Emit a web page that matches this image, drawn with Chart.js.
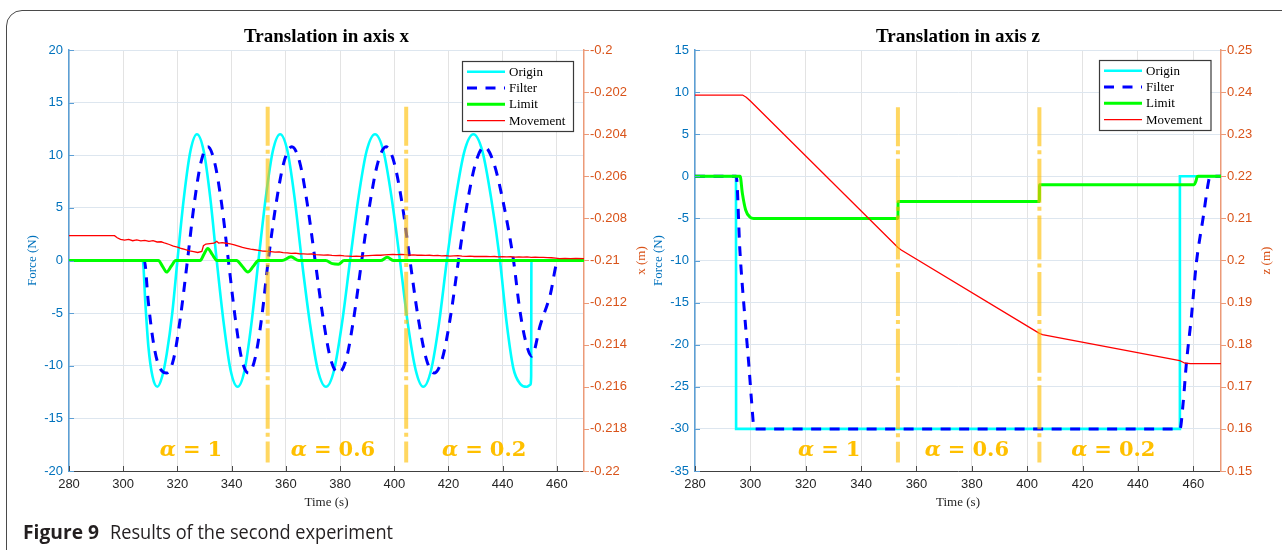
<!DOCTYPE html>
<html>
<head>
<meta charset="utf-8">
<script src="https://cdn.jsdelivr.net/npm/chart.js@4.4.1/dist/chart.umd.min.js"></script>
<style>
  html, body { margin: 0; padding: 0; background: #fff; }
  #stage { position: relative; width: 1282px; height: 550px; overflow: hidden; background: #fff; }
  #frame { position: absolute; left: 6px; top: 10px; width: 1320px; height: 600px;
           border: 1.5px solid #4a4a4a; border-radius: 16px; box-sizing: border-box; }
  canvas { position: absolute; left: 0; top: 0; }
  .cap { position: absolute; top: 522px; font-family: "Open Sans", "Noto Sans", sans-serif; font-size: 20px;
         line-height: 20px; color: #231f20; white-space: nowrap; display: inline-block; transform-origin: 0 50%; }
  #capB { left: 23px; font-weight: 700; }
  #capR { left: 110px; font-weight: 400; }
</style>
</head>
<body>
<div id="stage">
  <div id="frame"></div>
  <canvas id="chartX" width="1282" height="550"></canvas>
  <canvas id="chartZ" width="1282" height="550"></canvas>
  <span class="cap" id="capB">Figure 9</span>
  <span class="cap" id="capR">Results of the second experiment</span>
</div>
<script>
// ---------- axis ticks ----------
const timeTicks = [280, 300, 320, 340, 360, 380, 400, 420, 440, 460];
const forceTicksX = [-20, -15, -10, -5, 0, 5, 10, 15, 20];
const posTicksX = [-0.22, -0.218, -0.216, -0.214, -0.212, -0.21, -0.208, -0.206, -0.204, -0.202, -0.2];
const posTickLabelsX = ['-0.22', '-0.218', '-0.216', '-0.214', '-0.212', '-0.21', '-0.208', '-0.206', '-0.204', '-0.202', '-0.2'];
const forceTicksZ = [-35, -30, -25, -20, -15, -10, -5, 0, 5, 10, 15];
const posTicksZ = [0.15, 0.16, 0.17, 0.18, 0.19, 0.2, 0.21, 0.22, 0.23, 0.24, 0.25];
const posTickLabelsZ = ['0.15', '0.16', '0.17', '0.18', '0.19', '0.2', '0.21', '0.22', '0.23', '0.24', '0.25'];

// ---------- stages (time of switch, labels) ----------
const stageSwitches = [353.3, 404.4];
const stageLabels = ['α = 1', 'α = 0.6', 'α = 0.2'];
const stageLabelTimeX = [325, 377.4, 433.2];
const stageLabelTimeZ = [328.5, 378.2, 431.1];

// ---------- translation in x: [time s, value] ----------
const originX = [
  [280,0],[307.2,0],[308.2,-4.2],[309.3,-8.2],[310.8,-11],[312.6,-12],[314.4,-11],[316.1,-8.8],[318.1,-5],[320,0],
  [322.4,6],[324.8,10.4],[327.2,12],[329.7,10.4],[332.1,6],[334.5,0],
  [337.1,-6],[339.6,-10.4],[342.2,-12],[344.8,-10.4],[347.3,-6],[349.9,0],
  [352.6,6],[355.2,10.4],[357.9,12],[360.6,10.4],[363.2,6],[365.9,0],
  [368.9,-6],[371.8,-10.4],[374.8,-12],[377.8,-10.4],[380.7,-6],[383.7,0],
  [386.8,6],[389.8,10.4],[392.9,12],[396,10.4],[399,6],[402.1,0],
  [405,-6],[407.9,-10.4],[410.7,-12],[413.6,-10.4],[416.5,-6],[419.4,0],
  [422.7,6],[425.9,10.4],[429.2,12],[432.5,10.4],[435.7,6],[439,0],
  [441.5,-6],[443.9,-10.2],[446.4,-11.7],[448.9,-12],[450.2,-11.8],[450.5,-11],[450.6,0],[470,0]
];
const filterX = [
  [280,0],[307.8,0],[309.2,-3.8],[310.9,-7.4],[312.6,-9.6],[314.3,-10.5],[316,-10.7],[318.6,-9.35],[321.1,-5.4],[323.7,0],
  [326.2,5.4],[328.7,9.35],[331.2,10.8],[333.7,9.35],[336.3,5.4],[338.8,0],
  [341.3,-5.4],[343.7,-9.35],[346.2,-10.7],[348.6,-9.35],[351.1,-5.4],[353.5,0],
  [356.4,5.4],[359.3,9.35],[362.2,10.8],[365.1,9.35],[367.9,5.4],[370.8,0],
  [373.7,-5.4],[376.5,-9.35],[379.4,-10.7],[382.3,-9.35],[385.1,-5.4],[388,0],
  [391,5.4],[394,9.35],[397,10.8],[399.9,9.35],[402.9,5.4],[405.8,0],
  [408.8,-5.4],[411.8,-9.35],[414.7,-10.7],[417.7,-9.35],[420.7,-5.4],[423.7,0],
  [426.9,5.4],[430.1,9.35],[433.2,10.8],[436.6,9.35],[440.3,5.4],[444,0],
  [446.2,-4.5],[448.4,-7.6],[450.7,-9.1],[453.8,-6.2],[457.5,-3.3],[460.5,0],[470,0]
];
const limitX = [
  [280,0],[313,0],[314.5,-0.55],[316,-1.1],[317.7,-0.55],[319.4,0],
  [328.4,0],[329.8,0.6],[331.2,1.15],[332.9,0.55],[334.6,0],
  [341.8,0],[343.9,-0.55],[346,-1.1],[348,-0.55],[349.9,0],
  [358.6,0],[361.9,0.35],[364.8,0],
  [374.7,0],[377.2,-0.3],[379.4,-0.35],[381.5,0],
  [395,0],[397.4,0.3],[399.8,0],[470,0]
];
const movementX = [
  [280,-0.20882],[296.8,-0.20882],[297.8,-0.20892],[299,-0.209],[300.5,-0.20903],[302,-0.209],[303.5,-0.20906],
  [305,-0.20902],[306.5,-0.20907],[308,-0.20904],[309.5,-0.20909],[311,-0.20906],[312.5,-0.20912],[314,-0.20911],
  [315.5,-0.20918],[317,-0.20924],[318.5,-0.20932],[320,-0.20937],[321.5,-0.20943],[323,-0.20948],[324.5,-0.20954],
  [326,-0.20958],[327.5,-0.20962],[329,-0.20957],[329.6,-0.2093],[330.5,-0.20922],[332,-0.2092],[333.5,-0.20918],
  [334.5,-0.20909],[335.2,-0.20917],[336.5,-0.20915],[338,-0.20918],[339.5,-0.20921],[341,-0.20926],[342.5,-0.20932],
  [344,-0.20938],[345.5,-0.20942],[347,-0.20946],[348.5,-0.20949],[350,-0.20952],[351.5,-0.20955],[353,-0.20956],
  [354.5,-0.20958],[356,-0.2096],[357.5,-0.20959],[359,-0.20963],[360.5,-0.20964],[362,-0.20966],[363.5,-0.20965],
  [365,-0.20968],[366.5,-0.20969],[368,-0.2097],[369.5,-0.20969],[371,-0.20972],[372.5,-0.20973],[374,-0.20974],
  [375.5,-0.20973],[377,-0.20976],[378.5,-0.20977],[380,-0.20976],[381.5,-0.20978],[383,-0.20979],[384.5,-0.2098],
  [386,-0.20979],[387.5,-0.2098],[389,-0.20978],[390.5,-0.20977],[392,-0.20976],[393.5,-0.20975],[395,-0.20975],
  [396.5,-0.20973],[398,-0.20972],[399.5,-0.20971],[401,-0.20972],[402.5,-0.20971],[404,-0.20972],[405.5,-0.20974],
  [407,-0.20973],[408.5,-0.20975],[410,-0.20974],[411.5,-0.20976],[413,-0.20975],[414.5,-0.20977],[416,-0.20976],
  [417.5,-0.20978],[419,-0.20977],[420.5,-0.20979],[422,-0.20978],[423.5,-0.20977],[425,-0.20979],[426.5,-0.2098],
  [428,-0.20979],[429.5,-0.20981],[431,-0.2098],[432.5,-0.20981],[434,-0.2098],[435.5,-0.20982],[437,-0.20981],
  [438.5,-0.20983],[440,-0.20982],[441.5,-0.20983],[443,-0.20982],[444.5,-0.20984],[446,-0.20983],[447.5,-0.20984],
  [449,-0.20983],[450.5,-0.20985],[452,-0.20984],[453.5,-0.20985],[455,-0.20985],[456.5,-0.20986],[458,-0.20987],
  [459.5,-0.20989],[461,-0.20991],[463,-0.2099],[465,-0.20991],[467,-0.2099],[470,-0.20991]
];

// ---------- translation in z: [time s, value] ----------
const originZ = [[280,0],[294.8,0],[294.85,-30],[455.1,-30],[455.15,0],[470,0]];
const filterZ = [
  [280,0],[294.9,0],[296.2,-8.7],[298,-16.7],[299.5,-22.6],[300.5,-27],[301.4,-30],
  [455.2,-30],[456.3,-27],[457.5,-22.2],[459.3,-16.7],[461.1,-10.3],[463.6,-4.8],[465.4,-0.8],[466,0],[470,0]
];
const limitZ = [
  [280,0],[296.3,0],[297.1,-2],[298.3,-4],[299.9,-4.86],[301.2,-5],[353.3,-5],[353.35,-3],
  [404.4,-3],[404.45,-1],[460.3,-1],[460.9,-0.6],[461.4,-0.05],[461.8,0],[470,0]
];
const movementZ = [
  [280,0.2393],[297.2,0.2393],[298.5,0.2388],[300,0.2379],[353.3,0.2031],[354.5,0.2025],
  [404.4,0.1827],[405.5,0.1824],[455.1,0.1762],[457,0.1756],[459,0.1755],[470,0.1755]
];

// ---------- styling ----------
const W = 1282, H = 550;
const FORCE_BLUE = '#0072BD';
const POS_ORANGE = '#D95319';
const AXIS_BLUE = '#5b9fd6';
const AXIS_ORANGE = '#ec9a78';
const SERIF = '"Liberation Serif", "Times New Roman", serif';
const SANS = '"Liberation Sans", Arial, sans-serif';

const toPoints = arr => arr.map(p => ({ x: p[0], y: p[1] }));

function strokeLine(ctx, x1, y1, x2, y2) {
  ctx.beginPath(); ctx.moveTo(x1, y1); ctx.lineTo(x2, y2); ctx.stroke();
}

function drawStageLabel(ctx, text, cx, cy) {
  const [sym, eq, num] = text.split(' ');
  const fItalic = 'italic bold 21px "DejaVu Serif"';
  const fBold = 'bold 21px "DejaVu Serif"';
  ctx.font = fItalic; const w1 = ctx.measureText(sym).width;
  ctx.font = fBold; const w2 = ctx.measureText(eq).width; const w3 = ctx.measureText(num).width;
  const gap = 7;
  let x = cx - (w1 + w2 + w3 + 2 * gap) / 2;
  ctx.fillStyle = '#FFC000';
  ctx.textAlign = 'left';
  ctx.textBaseline = 'middle';
  ctx.font = fItalic; ctx.fillText(sym, x, cy); x += w1 + gap;
  ctx.font = fBold; ctx.fillText(eq, x, cy); x += w2 + gap;
  ctx.fillText(num, x, cy);
}

// titles, axis titles, inward tick marks, boxed legend and stage labels
const decor = {
  id: 'decor',
  afterDraw(chart, args, o) {
    const { ctx, chartArea: a } = chart;
    const sx = chart.scales.x, sy = chart.scales.y, sy2 = chart.scales.y2;
    ctx.save();

    ctx.lineWidth = 1;
    ctx.strokeStyle = '#4a4a4a';
    sx.ticks.forEach(t => { const px = Math.round(sx.getPixelForValue(t.value)) + 0.5; strokeLine(ctx, px, a.bottom, px, a.bottom - 5); });
    ctx.strokeStyle = AXIS_BLUE;
    sy.ticks.forEach(t => { const py = Math.round(sy.getPixelForValue(t.value)) + 0.5; strokeLine(ctx, a.left, py, a.left + 5, py); });
    ctx.strokeStyle = AXIS_ORANGE;
    sy2.ticks.forEach(t => { const py = Math.round(sy2.getPixelForValue(t.value)) + 0.5; strokeLine(ctx, a.right, py, a.right + 5, py); });

    const midX = (a.left + a.right) / 2, midY = (a.top + a.bottom) / 2;
    ctx.textAlign = 'center';
    ctx.textBaseline = 'middle';
    ctx.fillStyle = '#000';
    ctx.font = 'bold 19px ' + SERIF;
    ctx.fillText(o.title, midX, 37);
    ctx.font = '13px ' + SERIF;
    ctx.fillStyle = '#262626';
    ctx.fillText('Time (s)', midX, 503);
    [[o.forceTitle, o.forceTitleX, FORCE_BLUE], [o.posTitle, o.posTitleX, POS_ORANGE]].forEach(([txt, x, col]) => {
      ctx.save();
      ctx.translate(x, midY);
      ctx.rotate(-Math.PI / 2);
      ctx.fillStyle = col;
      ctx.fillText(txt, 0, 0);
      ctx.restore();
    });

    o.stageTimes.forEach((t, i) => drawStageLabel(ctx, stageLabels[i], sx.getPixelForValue(t), a.bottom - 20));

    const L = o.legend;
    ctx.fillStyle = '#fff';
    ctx.fillRect(L.x, L.y, L.w, L.h);
    ctx.strokeStyle = '#3a3a3a';
    ctx.lineWidth = 1.2;
    ctx.strokeRect(L.x + 0.5, L.y + 0.5, L.w, L.h);
    ctx.font = '13px ' + SERIF;
    ctx.textAlign = 'left';
    ctx.textBaseline = 'middle';
    chart.data.datasets.filter(ds => ds.label).forEach((ds, i) => {
      const y = L.y + 10.7 + i * 16.33;
      ctx.save();
      ctx.strokeStyle = ds.borderColor;
      ctx.lineWidth = ds.borderWidth;
      ctx.setLineDash(ds.borderDash || []);
      strokeLine(ctx, L.x + 5, y, L.x + 43, y);
      ctx.restore();
      ctx.fillStyle = '#000';
      ctx.fillText(ds.label, L.x + 47, y + 0.5);
    });
    ctx.restore();
  }
};

function makeChart(canvasId, cfg) {
  const a = cfg.area;
  // each scale box fills the whole margin on its side, so the plot area lands exactly on cfg.area
  const sizeTo = n => s => { if (s.isHorizontal()) s.height = n; else s.width = n; };
  const fixTicks = vals => s => { s.ticks = vals.map(v => ({ value: v })); };
  const smooth = { cubicInterpolationMode: 'monotone' };
  const sharp = { tension: 0 };
  const switchLine = t => ({
    data: [{ x: t, y: cfg.switchTop }, { x: t, y: cfg.switchBottom }],
    yAxisID: 'y', borderColor: 'rgba(255,190,0,0.62)', borderWidth: 4,
    borderDash: [44, 4, 4, 4.6], borderDashOffset: 5, order: 0, tension: 0
  });
  return new Chart(document.getElementById(canvasId), {
    type: 'line',
    data: {
      datasets: [
        Object.assign({ label: 'Origin', data: toPoints(cfg.origin), yAxisID: 'y', borderColor: '#00FFFF', borderWidth: 2.6, order: 4 }, cfg.originSmooth ? smooth : sharp),
        Object.assign({ label: 'Filter', data: toPoints(cfg.filter), yAxisID: 'y', borderColor: '#0000FF', borderWidth: 3, borderDash: [10, 8.5], order: 3 }, smooth),
        Object.assign({ label: 'Limit', data: toPoints(cfg.limit), yAxisID: 'y', borderColor: '#00FF00', borderWidth: 3, order: 2 }, smooth),
        Object.assign({ label: 'Movement', data: toPoints(cfg.movement), yAxisID: 'y2', borderColor: '#FF0000', borderWidth: 1.3, order: 1 }, sharp),
        ...stageSwitches.map(switchLine)
      ]
    },
    options: {
      responsive: false,
      animation: false,
      events: [],
      layout: { padding: { left: 0, top: a.top, right: 0, bottom: 0 } },
      elements: { point: { radius: 0 } },
      plugins: { legend: { display: false }, tooltip: { enabled: false }, title: { display: false }, decor: cfg.decor },
      scales: {
        x: {
          type: 'linear', min: 280, max: 470, afterFit: sizeTo(H - a.bottom), afterBuildTicks: fixTicks(timeTicks),
          grid: { color: '#e3e3e3', drawTicks: false },
          border: { color: '#404040', width: 1 },
          ticks: { color: '#262626', font: { family: SANS, size: 13 }, padding: 6, maxRotation: 0, autoSkip: false, callback: v => String(v) }
        },
        y: {
          type: 'linear', position: 'left', min: cfg.forceTicks[0], max: cfg.forceTicks[cfg.forceTicks.length - 1],
          afterFit: sizeTo(a.left), afterBuildTicks: fixTicks(cfg.forceTicks),
          grid: { color: '#dde6ef', drawTicks: false },
          border: { color: AXIS_BLUE, width: 1.5 },
          ticks: { color: FORCE_BLUE, font: { family: SANS, size: 13 }, padding: 6, autoSkip: false, callback: v => String(v) }
        },
        y2: {
          type: 'linear', position: 'right', min: cfg.posTicks[0], max: cfg.posTicks[cfg.posTicks.length - 1],
          afterFit: sizeTo(W - a.right), afterBuildTicks: fixTicks(cfg.posTicks),
          grid: { display: false, drawTicks: false },
          border: { color: AXIS_ORANGE, width: 1.5 },
          ticks: { color: POS_ORANGE, font: { family: SANS, size: 13 }, padding: 6, autoSkip: false, callback: (v, i) => cfg.posLabels[i] }
        }
      }
    },
    plugins: [decor]
  });
}

makeChart('chartX', {
  area: { left: 69, right: 584, top: 50, bottom: 471 },
  origin: originX, filter: filterX, limit: limitX, movement: movementX, originSmooth: true,
  forceTicks: forceTicksX, posTicks: posTicksX, posLabels: posTickLabelsX,
  switchTop: 14.6, switchBottom: -19.2,
  decor: { title: 'Translation in axis x', forceTitle: 'Force (N)', forceTitleX: 33, posTitle: 'x (m)', posTitleX: 641.5,
           legend: { x: 462, y: 61, w: 111, h: 70 }, stageTimes: stageLabelTimeX }
});

makeChart('chartZ', {
  area: { left: 695, right: 1221, top: 50, bottom: 471 },
  origin: originZ, filter: filterZ, limit: limitZ, movement: movementZ, originSmooth: false,
  forceTicks: forceTicksZ, posTicks: posTicksZ, posLabels: posTickLabelsZ,
  switchTop: 8.2, switchBottom: -34,
  decor: { title: 'Translation in axis z', forceTitle: 'Force (N)', forceTitleX: 659, posTitle: 'z (m)', posTitleX: 1267,
           legend: { x: 1099, y: 60, w: 111.5, h: 70 }, stageTimes: stageLabelTimeZ }
});

// caption: stretch each run to its measured width
[['capB', 76], ['capR', 283]].forEach(([id, target]) => {
  const el = document.getElementById(id);
  const w = el.getBoundingClientRect().width;
  if (w > 0) el.style.transform = 'scaleX(' + (target / w) + ')';
});
</script>
</body>
</html>
